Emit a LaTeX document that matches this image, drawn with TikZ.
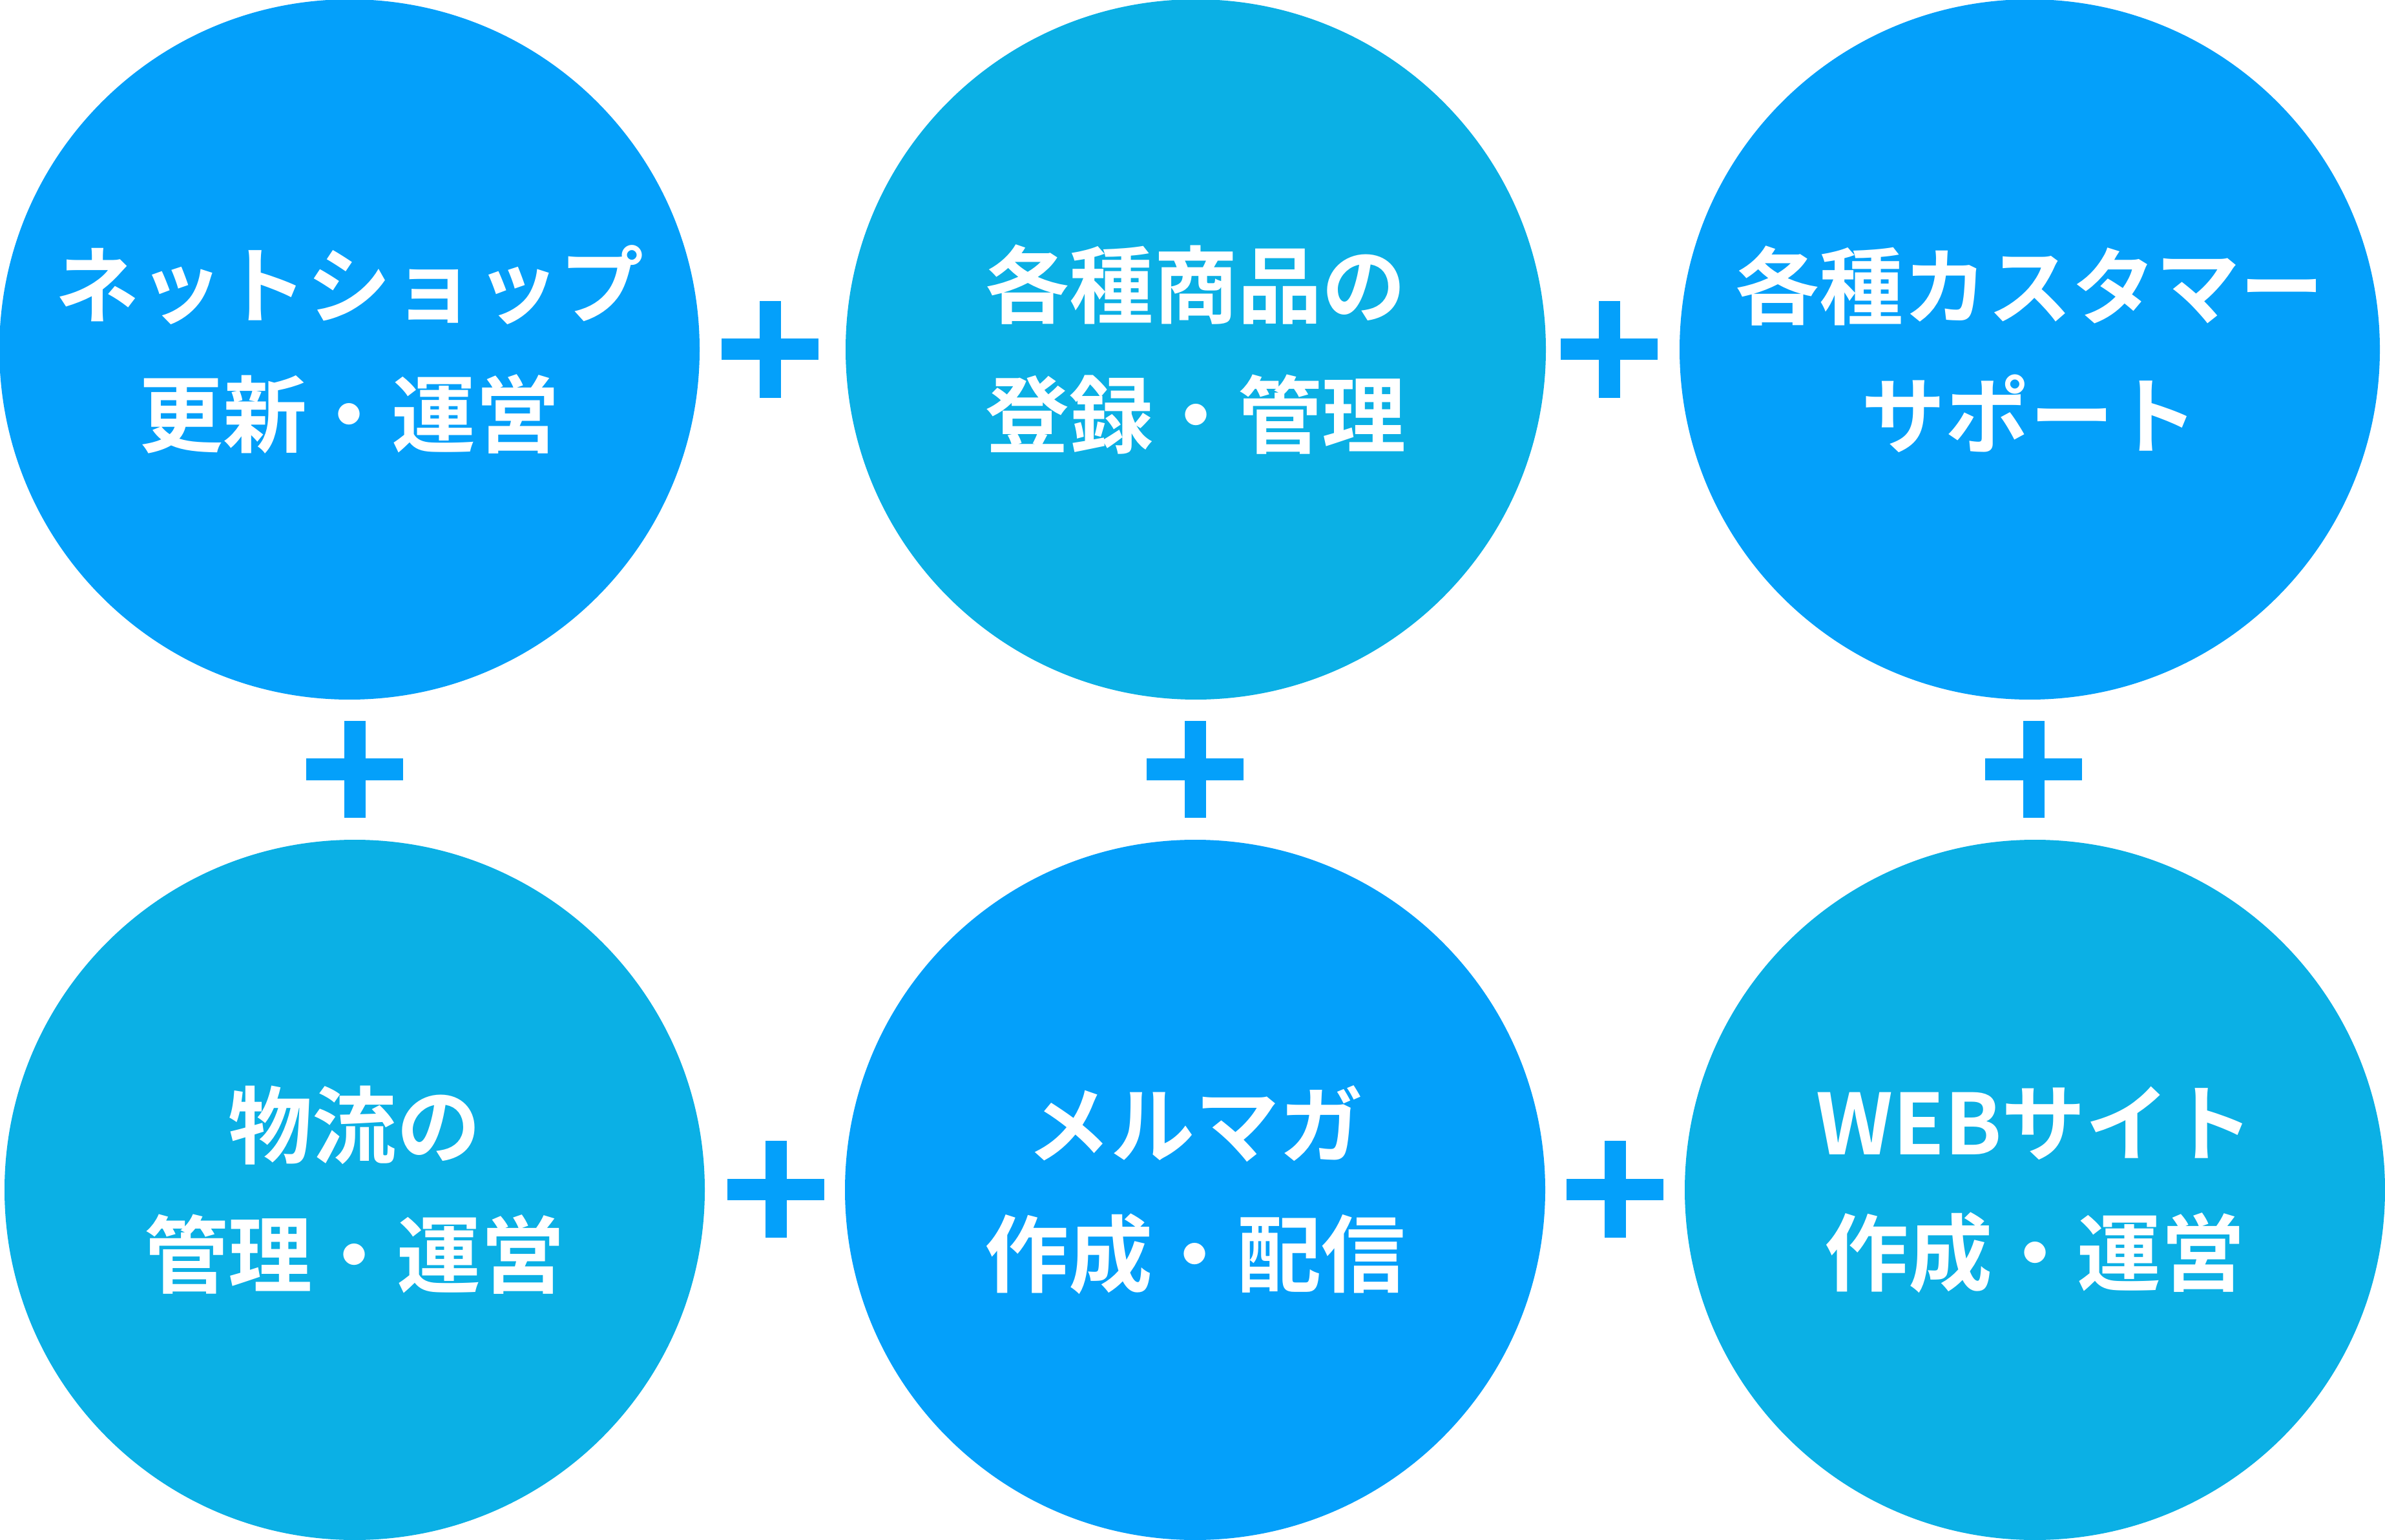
\documentclass[tikz,border=0pt]{standalone}
\usepackage{fontspec}
\setmainfont{Noto Sans CJK JP}[BoldFont={Noto Sans CJK JP Bold}]
\definecolor{shopblue}{RGB}{4,160,250}
\definecolor{shopcyan}{RGB}{11,176,229}

\begin{document}
\begin{tikzpicture}[
   disc/.style={circle,minimum size=10.84cm,inner sep=0pt,text=white,align=center,
                font=\bfseries\fontsize{37}{57}\selectfont},
   bluedisc/.style={disc,fill=shopblue},
   cyandisc/.style={disc,fill=shopcyan},
   plusbar/.style={fill=shopblue}
]
  \useasboundingbox (0,0) rectangle (36.92,23.83);
  % top row
  \node[bluedisc] (shop)  at (5.41,18.42)  {ネットショップ\\更新・運営};
  \node[cyandisc] (goods) at (18.51,18.42) {各種商品の\\登録・管理};
  \node[bluedisc] (care)  at (31.42,18.42) {各種カスタマー\\サポート};
  % bottom row
  \node[cyandisc] (logi)  at (5.49,5.41)   {物流の\\管理・運営};
  \node[bluedisc] (mail)  at (18.50,5.41)  {メルマガ\\作成・配信};
  \node[cyandisc] (web)   at (31.50,5.41)  {WEBサイト\\作成・運営};
  % plus signs
  \foreach \Pos in {(11.92,18.42),(24.91,18.42),(5.49,11.92),(18.50,11.92),
                    (31.48,11.92),(12.01,5.42),(25.00,5.42)}{
    \fill[plusbar] \Pos ++(-0.75,-0.165) rectangle ++(1.5,0.33);
    \fill[plusbar] \Pos ++(-0.165,-0.75) rectangle ++(0.33,1.5);
  }
\end{tikzpicture}
\end{document}
